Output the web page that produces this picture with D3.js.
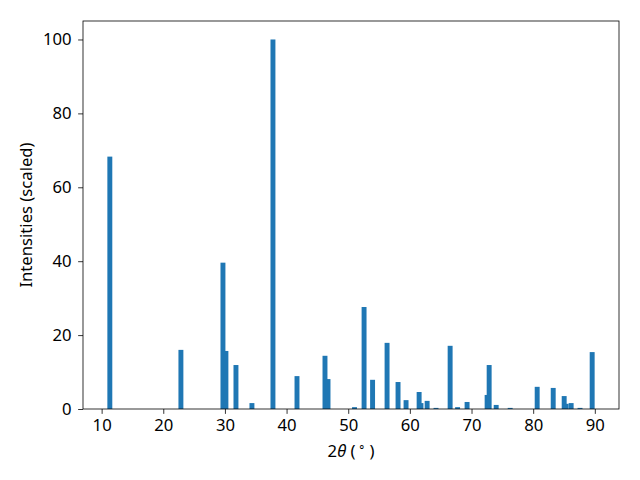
<!DOCTYPE html>
<html><head><meta charset="utf-8">
<script src="https://cdn.jsdelivr.net/npm/d3@7"></script>
<style>body{margin:0;background:#fff}text{font-family:"Noto Sans",sans-serif}</style>
</head><body>
<svg id="c" width="640" height="480"></svg>
<script>
const twoTheta = [11.33,22.86,29.68,30.16,31.79,34.38,37.79,41.69,46.23,46.72,51.02,52.57,53.95,56.3,58.08,59.38,61.5,61.8,62.8,64.24,66.53,67.74,69.28,72.53,72.86,74.0,76.27,80.65,83.25,85.03,85.35,86.16,87.6,89.57];
const intensity = [68.3,16.0,39.6,15.7,11.9,1.6,100,8.9,14.4,8.1,0.5,27.6,7.9,17.9,7.3,2.4,4.6,1.6,2.2,0.3,17.1,0.5,1.9,3.8,11.9,1.1,0.3,6.0,5.7,3.5,1.4,1.6,0.3,15.4];
const xTicks = [10,20,30,40,50,60,70,80,90];
const yTicks = [0,20,40,60,80,100];
const barWidth = 0.8;

const svg = d3.select("#c");
const L=83,R=619,T=21,B=409;
const lo = d3.min(twoTheta)-barWidth/2, hi = d3.max(twoTheta)+barWidth/2;
const pad = (hi-lo)*0.05;
const x = d3.scaleLinear().domain([lo-pad, hi+pad]).range([L,R]);
const y = d3.scaleLinear().domain([0,105]).range([B,T]);

const data = twoTheta.map((t,i)=>({t, v:intensity[i]}));
svg.append("g").selectAll("rect").data(data).join("rect")
  .attr("x", d=>x(d.t-barWidth/2)).attr("width", d=>x(d.t+barWidth/2)-x(d.t-barWidth/2))
  .attr("y", d=>y(d.v)).attr("height", d=>y(0)-y(d.v))
  .attr("fill","#1f77b4");

const fs = "16.67px";
const xa = svg.append("g").attr("transform",`translate(0,${B})`)
  .call(d3.axisBottom(x).tickValues(xTicks).tickSize(4.86).tickPadding(5.3).tickFormat(d3.format("d")));
const ya = svg.append("g").attr("transform",`translate(${L},0)`)
  .call(d3.axisLeft(y).tickValues(yTicks).tickSize(4.86).tickPadding(6.5).tickFormat(d3.format("d")));
[xa,ya].forEach(a=>{
  a.select(".domain").remove();
  a.selectAll("line").attr("stroke","#000").attr("stroke-width",0.8);
  a.selectAll("text").attr("font-family","Noto Sans").attr("font-size",fs).attr("fill","#000");
});
svg.append("rect").attr("x",L).attr("y",T).attr("width",R-L).attr("height",B-T)
  .attr("fill","none").attr("stroke","#000").attr("stroke-width",0.8);

const xl = svg.append("text").attr("x",(L+R)/2).attr("y",456.5).attr("text-anchor","middle")
  .attr("font-size",fs).attr("fill","#000");
xl.append("tspan").text("2");
xl.append("tspan").attr("font-style","italic").text("θ");
xl.append("tspan").text("\u00a0(");
xl.append("tspan").attr("font-size","11.7px").attr("dy","-6").attr("dx","3").text("∘");
xl.append("tspan").attr("dy","6").attr("dx","3").text(")");

svg.append("text").attr("transform",`translate(32,${(T+B)/2}) rotate(-90)`)
  .attr("text-anchor","middle").attr("font-size",fs).attr("fill","#000")
  .text("Intensities (scaled)");
</script>
</body></html>
